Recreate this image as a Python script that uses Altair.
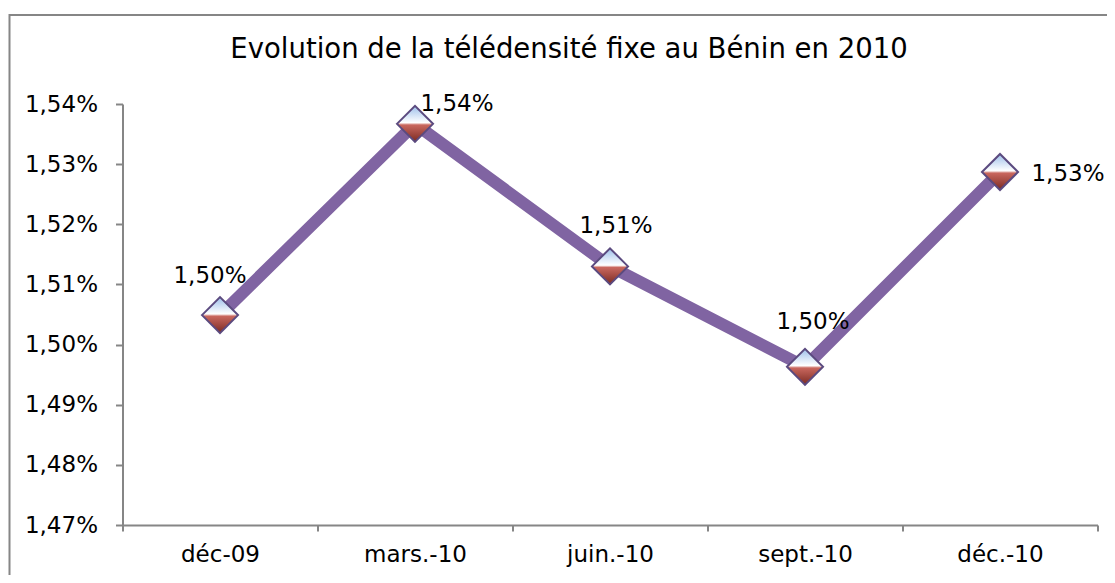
import altair as alt
import pandas as pd

categories = ["déc-09", "mars.-10", "juin.-10", "sept.-10", "déc.-10"]
values = [1.5049, 1.5367, 1.5130, 1.4963, 1.5287]
y_ticks = [1.47, 1.48, 1.49, 1.50, 1.51, 1.52, 1.53, 1.54]
title_text = "Evolution de la télédensité fixe au Bénin en 2010"

df = pd.DataFrame({"mois": categories, "val": values})

FONT = "DejaVu Sans"
AXIS_GRAY = "#868686"
FS = 23

x_enc = alt.X("mois:N", sort=categories, title=None,
              scale=alt.Scale(paddingInner=0, paddingOuter=0),
              axis=alt.Axis(tickBand="extent", labelAngle=0, labelFontSize=FS,
                            labelFont=FONT, labelColor="#000000", labelPadding=12,
                            tickSize=6, domainColor=AXIS_GRAY, tickColor=AXIS_GRAY,
                            domainWidth=2, tickWidth=2, grid=False))
y_enc = alt.Y("val:Q", title=None,
              scale=alt.Scale(domain=[1.47, 1.54], nice=False, zero=False),
              axis=alt.Axis(values=y_ticks,
                            labelExpr="replace(format(datum.value, '.2f'), '.', ',') + '%'",
                            labelFontSize=FS, labelFont=FONT, labelColor="#000000",
                            labelPadding=18, tickSize=7, domainColor=AXIS_GRAY,
                            tickColor=AXIS_GRAY, domainWidth=2, tickWidth=2, grid=False))

base = alt.Chart(df).encode(x=x_enc, y=y_enc)

line = base.mark_line(color="#8064a2", strokeWidth=12, strokeJoin="miter")

gradient = alt.LinearGradient(
    gradient="linear", x1=0, y1=0, x2=0, y2=1,
    stops=[alt.GradientStop(offset=0, color="#9dbfea"),
           alt.GradientStop(offset=0.47, color="#ffffff"),
           alt.GradientStop(offset=0.53, color="#c9675e"),
           alt.GradientStop(offset=1, color="#7a2a22")])

points = base.mark_point(shape="diamond", size=1300, filled=True, fill=gradient,
                         stroke="#5b4a7f", strokeWidth=2, opacity=1)

label_offsets = {
    "déc-09": (-10, -39),
    "mars.-10": (42, -20),
    "juin.-10": (6, -40),
    "sept.-10": (8, -45),
    "déc.-10": (68, 2),
}
labels = []
for cat, (dx, dy) in label_offsets.items():
    labels.append(
        base.transform_filter(alt.datum.mois == cat)
        .transform_calculate(lab="replace(format(datum.val, '.2f'), '.', ',') + '%'")
        .mark_text(fontSize=FS, font=FONT, color="#000000", dx=dx, dy=dy,
                   align="center", baseline="middle")
        .encode(text="lab:N")
    )

frame = alt.Chart(df).mark_rect(fill=None, stroke=AXIS_GRAY, strokeWidth=2, clip=False).encode(
    x=alt.value(-113), x2=alt.value(1000), y=alt.value(-89), y2=alt.value(490)
).transform_filter(alt.datum.mois == categories[0])

title = alt.Chart(df).transform_filter(alt.datum.mois == categories[0]).mark_text(
    text=title_text, fontSize=27.5, font=FONT, color="#000000",
    align="center", baseline="middle"
).encode(x=alt.value(446.5), y=alt.value(-54))

chart = alt.layer(frame, line, points, *labels, title).properties(
    width=975, height=421,
    autosize=alt.AutoSizeParams(type="none"),
    padding={"left": 114.5, "top": 96, "right": 9.5, "bottom": 50},
).configure_view(stroke=None)

chart.save("out.html", embed_options={"renderer": "svg", "actions": False})
